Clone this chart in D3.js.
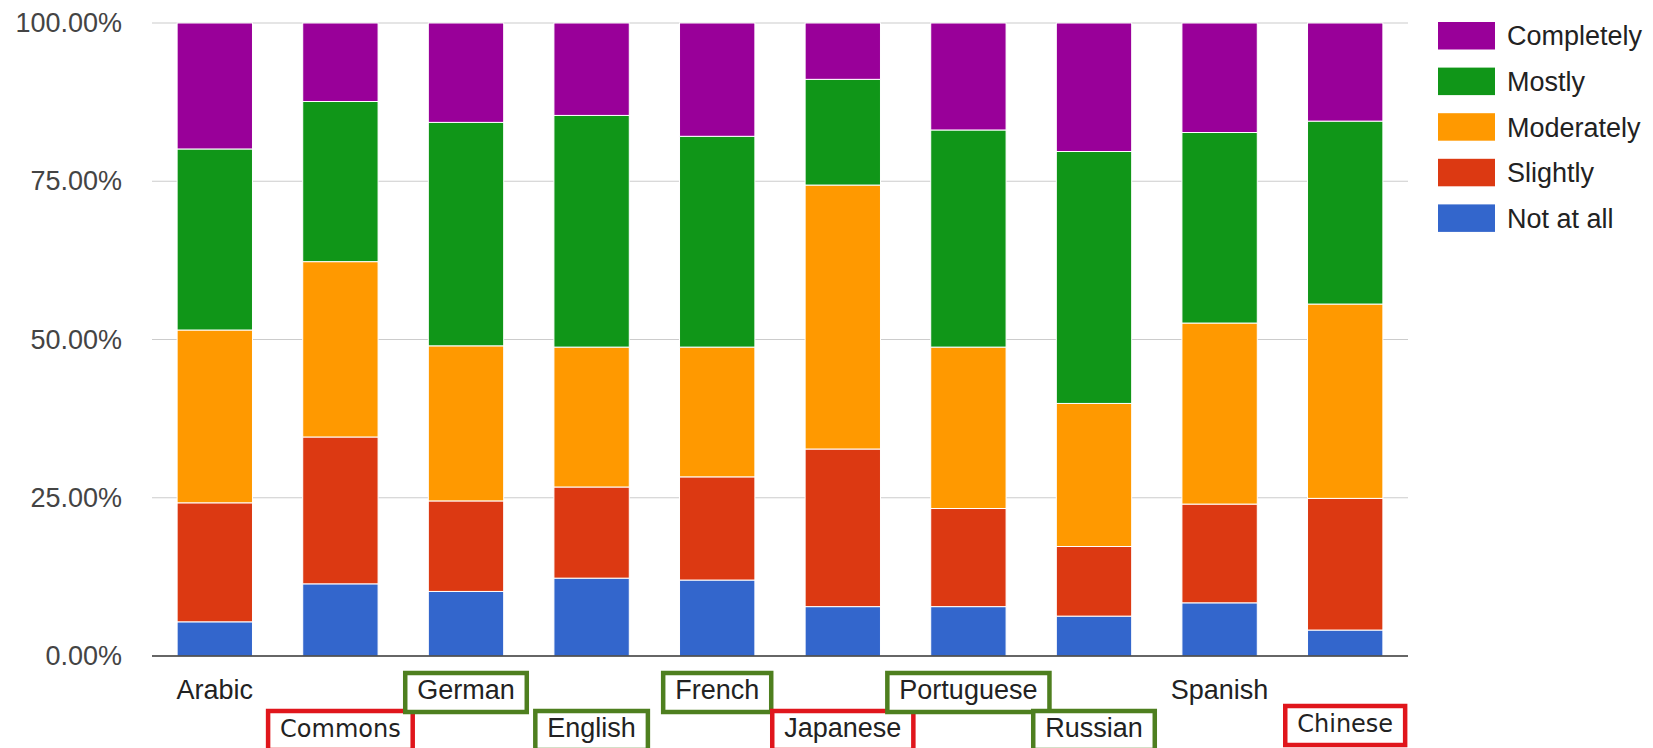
<!DOCTYPE html>
<html><head><meta charset="utf-8">
<script src="https://cdn.jsdelivr.net/npm/d3@7"></script>
<style>body{margin:0;background:#fff;} svg{display:block;}</style>
</head><body>
<svg id="chart" width="1653" height="748"></svg>
<script>
// ---- data ----
const categories = ["Arabic","Commons","German","English","French","Japanese","Portuguese","Russian","Spanish","Chinese"];
const seriesNames = ["Not at all","Slightly","Moderately","Mostly","Completely"];
const notAtAll   = [5.4, 11.4, 10.2, 12.3, 12.0, 7.8, 7.8, 6.3, 8.4, 4.1];
const slightly   = [18.8, 23.2, 14.3, 14.4, 16.3, 24.9, 15.5, 11.0, 15.6, 20.8];
const moderately = [27.3, 27.7, 24.5, 22.1, 20.5, 41.7, 25.5, 22.6, 28.6, 30.7];
const mostly     = [28.6, 25.3, 35.3, 36.6, 33.3, 16.7, 34.3, 39.8, 30.1, 28.9];
const completely = [19.9, 12.4, 15.7, 14.6, 17.9, 8.9, 16.9, 20.3, 17.3, 15.5];
const yTicks = [0, 25, 50, 75, 100];
const goodLabels = ["German","English","French","Portuguese","Russian"];
const badLabels = ["Commons","Japanese","Chinese"];

// ---- styles ----
const seriesColors = {"Not at all":"#3366cc","Slightly":"#dc3912","Moderately":"#ff9900","Mostly":"#109618","Completely":"#990099"};
const altFont = new Set(["Commons","Chinese"]);
const FONT = "'Liberation Sans', Arial, Helvetica, sans-serif";
const ALT_FONT = "'DejaVu Sans', Verdana, sans-serif";

const table = categories.map((c, i) => ({
  cat: c,
  "Not at all": notAtAll[i], "Slightly": slightly[i], "Moderately": moderately[i],
  "Mostly": mostly[i], "Completely": completely[i]
}));

const svg = d3.select("#chart");
const x = d3.scaleBand().domain(categories).range([152, 1408]).paddingInner(0.4).paddingOuter(0.2);
const y = d3.scaleLinear().domain([0, 100]).range([656, 23]);

// gridlines
svg.append("g").selectAll("line").data(yTicks.filter(t => t > 0)).join("line")
  .attr("x1", 152).attr("x2", 1408)
  .attr("y1", d => y(d)).attr("y2", d => y(d))
  .attr("stroke", "#cccccc").attr("stroke-width", 1.2);

// y axis labels
const yAxis = d3.axisLeft(y).tickValues(yTicks).tickSize(0).tickPadding(0)
  .tickFormat(d => d.toFixed(2) + "%");
const ya = svg.append("g").attr("transform", "translate(122,0)").call(yAxis);
ya.select(".domain").remove();
ya.selectAll("text").attr("font-family", FONT).attr("font-size", 27).attr("fill", "#444");

// bars
const stacked = d3.stack().keys(seriesNames)(table);
svg.append("g").selectAll("g").data(stacked).join("g")
  .attr("fill", d => seriesColors[d.key])
  .selectAll("rect").data(d => d).join("rect")
  .attr("x", d => x(d.data.cat))
  .attr("width", x.bandwidth())
  .attr("y", d => y(d[1]))
  .attr("height", d => y(d[0]) - y(d[1]))
  .attr("stroke", "#ffffff").attr("stroke-width", 1);

// baseline
svg.append("line").attr("x1", 152).attr("x2", 1408).attr("y1", y(0)).attr("y2", y(0))
  .attr("stroke", "#333").attr("stroke-width", 1.6);

// category labels (staggered)
const lab = svg.append("g");
categories.forEach((c, i) => {
  const row = i % 2;
  let base = row === 0 ? 699 : 737;
  if (c === "Chinese") base = 732;
  const t = lab.append("text")
    .attr("x", x(c) + x.bandwidth() / 2).attr("y", base)
    .attr("text-anchor", "middle")
    .attr("font-family", altFont.has(c) ? ALT_FONT : FONT)
    .attr("font-size", altFont.has(c) ? 24 : 27)
    .attr("fill", "#222").text(c);
  let col = null;
  if (goodLabels.includes(c)) col = "#4e7f1f";
  if (badLabels.includes(c)) col = "#e0161c";
  if (col) {
    const bb = t.node().getBBox();
    const top = base - 26, bottom = base + 13;
    lab.insert("rect", "text")
      .attr("x", bb.x - 12).attr("y", top)
      .attr("width", bb.width + 24).attr("height", bottom - top)
      .attr("fill", "#fff").attr("stroke", col).attr("stroke-width", 4.5);
  }
});
// bring text above rects
lab.selectAll("text").raise();

// legend
const legendOrder = seriesNames.slice().reverse();
const lg = svg.append("g");
legendOrder.forEach((s, i) => {
  const top = 22 + i * 45.6;
  lg.append("rect").attr("x", 1438).attr("y", top).attr("width", 57).attr("height", 27.5)
    .attr("fill", seriesColors[s]);
  lg.append("text").attr("x", 1507).attr("y", top + 13.75).attr("dy", "0.36em")
    .attr("font-family", FONT).attr("font-size", 27).attr("fill", "#222").text(s);
});
</script>
</body></html>
